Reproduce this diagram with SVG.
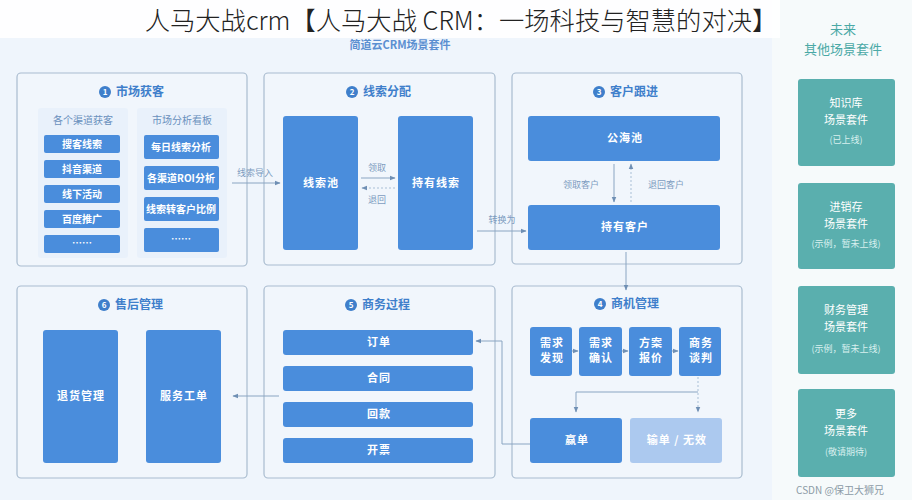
<svg xmlns="http://www.w3.org/2000/svg" width="912" height="500" viewBox="0 0 912 500">
<defs>
<style>
text{font-family:"Noto Sans CJK SC","Noto Sans",sans-serif;}
.panel{fill:#f1f6fc;stroke:#a9bccf;stroke-width:1.2;}
.ptitle{fill:#3f7fcb;font-size:12px;font-weight:bold;}
.badge{fill:#3f7fcb;}
.bnum{fill:#fff;font-size:8px;font-weight:bold;text-anchor:middle;}
.box{fill:#4a8ddc;}
.bt{fill:#fff;font-size:11px;font-weight:bold;text-anchor:middle;letter-spacing:1px;}
.bs{fill:#fff;font-size:10px;font-weight:bold;text-anchor:middle;}
.sub{fill:#e9f1fb;}
.subh{fill:#6a90bd;font-size:10px;text-anchor:middle;}
.lbl{fill:#7d9cc0;font-size:9px;text-anchor:middle;}
.conn{fill:none;stroke:#8aa5c2;stroke-width:1;}
.dash{fill:none;stroke:#a9bfd6;stroke-width:1;stroke-dasharray:2 2;}
.card{fill:#5aafae;}
.ct{fill:#fff;font-size:11px;text-anchor:middle;}
.cs{fill:#d8f0ef;font-size:9px;text-anchor:middle;}
</style>
<marker id="ah" viewBox="0 0 10 10" refX="9" refY="5" markerWidth="6" markerHeight="6" orient="auto-start-reverse"><path d="M0,1 L10,5 L0,9 z" fill="#6f8fb4"/></marker>
</defs>
<rect x="0" y="0" width="912" height="500" fill="#eff5fc"/>
<rect x="772" y="0" width="140" height="500" fill="#f6fafb"/>
<text x="400" y="49" font-size="11" font-weight="bold" fill="#5b8fd1" text-anchor="middle">简道云CRM场景套件</text>
<rect x="0" y="0" width="780" height="38" fill="#ffffff" opacity="0.9"/>
<text x="461" y="30" font-size="25.3" font-weight="300" fill="#222" text-anchor="middle">人马大战crm【人马大战 CRM：一场科技与智慧的对决】</text>

<g id="p1">
<rect class="panel" x="17" y="73" width="230" height="193" rx="4"/>
<circle class="badge" cx="105" cy="92" r="6"/><text class="bnum" x="105" y="95">1</text>
<text class="ptitle" x="116" y="96">市场获客</text>
<rect class="sub" x="38" y="108" width="90" height="150" rx="3"/>
<rect class="sub" x="137" y="108" width="90" height="150" rx="3"/>
<text class="subh" x="83" y="124">各个渠道获客</text>
<text class="subh" x="182" y="124">市场分析看板</text>
<rect class="box" x="44" y="135" width="76" height="18" rx="2"/><text class="bs" x="82" y="148">搜客线索</text>
<rect class="box" x="44" y="160" width="76" height="18" rx="2"/><text class="bs" x="82" y="173">抖音渠道</text>
<rect class="box" x="44" y="185" width="76" height="18" rx="2"/><text class="bs" x="82" y="198">线下活动</text>
<rect class="box" x="44" y="210" width="76" height="18" rx="2"/><text class="bs" x="82" y="223">百度推广</text>
<rect class="box" x="44" y="235" width="76" height="18" rx="2"/><text class="bs" x="82" y="247">……</text>
<rect class="box" x="144" y="135" width="75" height="24" rx="2"/><text class="bs" x="181" y="151">每日线索分析</text>
<rect class="box" x="144" y="166" width="75" height="24" rx="2"/><text class="bs" x="181" y="182">各渠道ROI分析</text>
<rect class="box" x="144" y="197" width="75" height="24" rx="2"/><text class="bs" x="181" y="213" font-size="9.5">线索转客户比例</text>
<rect class="box" x="144" y="228" width="75" height="24" rx="2"/><text class="bs" x="181" y="243">……</text>
</g>

<g id="p2">
<rect class="panel" x="264" y="73" width="231" height="192" rx="4"/>
<circle class="badge" cx="352" cy="92" r="6"/><text class="bnum" x="352" y="95">2</text>
<text class="ptitle" x="363" y="96">线索分配</text>
<rect class="box" x="283" y="116" width="75" height="134" rx="3"/><text class="bt" x="321" y="187">线索池</text>
<rect class="box" x="398" y="116" width="75" height="134" rx="3"/><text class="bt" x="436" y="187">持有线索</text>
</g>

<g id="p3">
<rect class="panel" x="512" y="73" width="230" height="191" rx="4"/>
<circle class="badge" cx="599" cy="92" r="6"/><text class="bnum" x="599" y="95">3</text>
<text class="ptitle" x="610" y="96">客户跟进</text>
<rect class="box" x="528" y="116" width="192" height="45" rx="3"/><text class="bt" x="625" y="142">公海池</text>
<rect class="box" x="528" y="205" width="192" height="45" rx="3"/><text class="bt" x="625" y="231">持有客户</text>
</g>

<g id="p4">
<rect class="panel" x="512" y="286" width="230" height="192" rx="4"/>
<circle class="badge" cx="600" cy="304" r="6"/><text class="bnum" x="600" y="307">4</text>
<text class="ptitle" x="611" y="308">商机管理</text>
<rect class="box" x="530" y="327" width="42" height="49" rx="3"/><text class="bt" x="552" y="347">需求</text><text class="bt" x="552" y="362">发现</text>
<rect class="box" x="579" y="327" width="43" height="49" rx="3"/><text class="bt" x="601" y="347">需求</text><text class="bt" x="601" y="362">确认</text>
<rect class="box" x="629" y="327" width="43" height="49" rx="3"/><text class="bt" x="651" y="347">方案</text><text class="bt" x="651" y="362">报价</text>
<rect class="box" x="679" y="327" width="42" height="49" rx="3"/><text class="bt" x="701" y="347">商务</text><text class="bt" x="701" y="362">谈判</text>
<rect class="box" x="530" y="418" width="92" height="45" rx="3"/><text class="bt" x="577" y="444">赢单</text>
<rect x="630" y="418" width="92" height="45" rx="3" fill="#acc9ef"/><text class="bt" x="677" y="444" fill="#eef4fc">输单 / 无效</text>
</g>

<g id="p5">
<rect class="panel" x="264" y="286" width="231" height="192" rx="4"/>
<circle class="badge" cx="351" cy="305" r="6"/><text class="bnum" x="351" y="308">5</text>
<text class="ptitle" x="362" y="309">商务过程</text>
<rect class="box" x="283" y="330" width="190" height="25" rx="3"/><text class="bt" x="379" y="346">订单</text>
<rect class="box" x="283" y="366" width="190" height="25" rx="3"/><text class="bt" x="379" y="382">合同</text>
<rect class="box" x="283" y="402" width="190" height="25" rx="3"/><text class="bt" x="379" y="418">回款</text>
<rect class="box" x="283" y="438" width="190" height="25" rx="3"/><text class="bt" x="379" y="454">开票</text>
</g>

<g id="p6">
<rect class="panel" x="17" y="286" width="230" height="192" rx="4"/>
<circle class="badge" cx="104" cy="305" r="6"/><text class="bnum" x="104" y="308">6</text>
<text class="ptitle" x="115" y="309">售后管理</text>
<rect class="box" x="43" y="330" width="75" height="133" rx="3"/><text class="bt" x="81" y="400">退货管理</text>
<rect class="box" x="146" y="330" width="75" height="133" rx="3"/><text class="bt" x="184" y="400">服务工单</text>
</g>

<g id="future">
<text x="843" y="34" font-size="13" fill="#4aa9a6" text-anchor="middle">未来</text>
<text x="843" y="54" font-size="13" fill="#4aa9a6" text-anchor="middle">其他场景套件</text>
<g id="c1"><rect class="card" x="798" y="79" width="97" height="87" rx="3"/><text class="ct" x="846" y="107">知识库</text><text class="ct" x="846" y="124">场景套件</text><text class="cs" x="846" y="143">(已上线)</text></g>
<g id="c2"><rect class="card" x="798" y="183" width="97" height="86" rx="3"/><text class="ct" x="846" y="211">进销存</text><text class="ct" x="846" y="228">场景套件</text><text class="cs" x="846" y="247">(示例，暂未上线)</text></g>
<g id="c3"><rect class="card" x="798" y="286" width="97" height="88" rx="3"/><text class="ct" x="846" y="314">财务管理</text><text class="ct" x="846" y="331">场景套件</text><text class="cs" x="846" y="352">(示例，暂未上线)</text></g>
<g id="c4"><rect class="card" x="798" y="389" width="97" height="88" rx="3"/><text class="ct" x="846" y="418">更多</text><text class="ct" x="846" y="435">场景套件</text><text class="cs" x="846" y="455">(敬请期待)</text></g>
</g>

<g id="connectors">
<path class="conn" d="M232,183 H280" marker-end="url(#ah)"/>
<text class="lbl" x="255" y="176">线索导入</text>
<path class="conn" d="M361,178 H395" marker-end="url(#ah)"/>
<text class="lbl" x="377" y="171">领取</text>
<path class="dash" d="M395,188 H362" marker-end="url(#ah)"/>
<text class="lbl" x="377" y="203">退回</text>
<path class="conn" d="M477,231 H526" marker-end="url(#ah)"/>
<text class="lbl" x="502" y="223">转换为</text>
<path class="conn" d="M614,164 V202" marker-end="url(#ah)"/>
<text class="lbl" x="581" y="188">领取客户</text>
<path class="dash" d="M631,202 V164" marker-end="url(#ah)"/>
<text class="lbl" x="666" y="188">退回客户</text>
<path class="conn" d="M626,252 V290" marker-end="url(#ah)"/>
<path class="conn" d="M572,351 H578" marker-end="url(#ah)"/>
<path class="conn" d="M622,351 H628" marker-end="url(#ah)"/>
<path class="conn" d="M672,351 H678" marker-end="url(#ah)"/>
<path class="dash" d="M698,377 V412" marker-end="url(#ah)"/>
<path class="conn" d="M698,392 H576 V412" marker-end="url(#ah)"/>
<path class="conn" d="M530,444 H502 V341 H476" marker-end="url(#ah)"/>
<path class="conn" d="M279,396 H233" marker-end="url(#ah)"/>
</g>
<text x="840" y="494" font-size="10" fill="#8c9aa6" text-anchor="middle">CSDN @保卫大狮兄</text>
</svg>
